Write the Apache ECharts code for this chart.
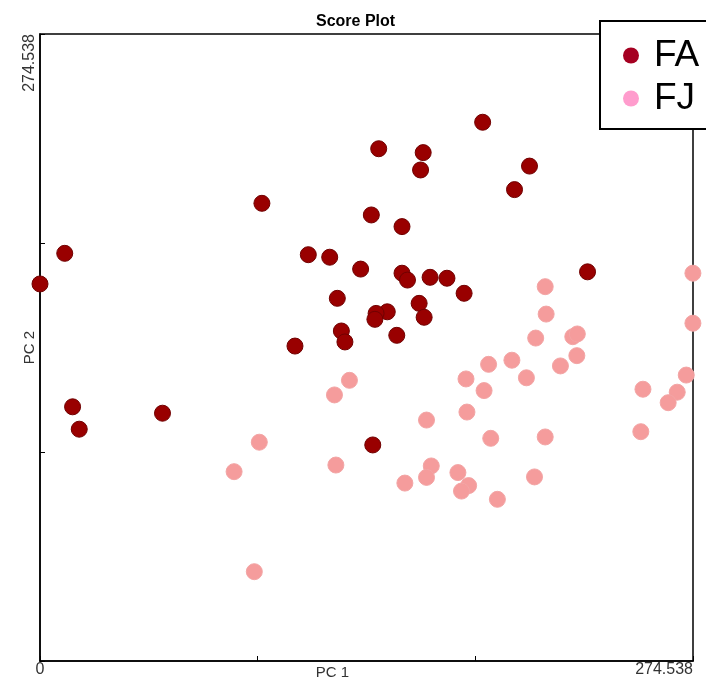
<!DOCTYPE html>
<html>
<head>
<meta charset="utf-8">
<title>Score Plot</title>
<script src="https://cdn.jsdelivr.net/npm/echarts@6/dist/echarts.min.js"></script>
<style>
  html, body { margin: 0; padding: 0; background: #fff; }
  #chart { width: 706px; height: 681px; }
</style>
</head>
<body>
<div id="chart"></div>
<script>
// axis range (both PCs share the same scale)
const axisMin = 0
const axisMax = 274.538

// FA group scores
const faPc1 = [186.1, 142.4, 161.1, 160.0, 205.8, 199.5, 93.3, 139.3, 152.2, 10.4,
  112.8, 121.8, 134.8, 230.2, 0, 152.2, 154.5, 164.0, 171.1, 178.3,
  125.0, 159.4, 146.0, 141.3, 140.8, 161.5, 126.7, 128.2, 150.0, 107.2,
  13.7, 16.5, 51.5, 139.9]
const faPc2 = [235.9, 224.3, 222.6, 215.0, 216.7, 206.4, 200.4, 195.3, 190.2, 178.5,
  177.9, 176.8, 171.6, 170.4, 165.1, 169.8, 166.8, 168.0, 167.6, 161.0,
  158.8, 156.6, 152.9, 152.2, 149.6, 150.5, 144.5, 139.7, 142.6, 137.9,
  111.3, 101.5, 108.5, 94.6]

// FJ group scores
const fjPc1 = [212.4, 274.5, 212.8, 274.5, 208.4, 224.0, 225.9, 225.7, 188.6, 198.4,
  218.8, 204.5, 179.1, 186.7, 271.7, 253.5, 267.9, 264.1, 130.1, 123.8,
  179.5, 162.5, 189.5, 212.4, 252.6, 92.2, 81.6, 124.4, 164.5, 162.5,
  153.4, 175.7, 180.2, 177.2, 207.9, 192.3, 90.1]
const fjPc2 = [163.9, 169.8, 151.9, 147.9, 141.4, 142.0, 143.2, 133.7, 129.9, 131.7,
  129.2, 124.0, 123.5, 118.4, 125.2, 119.0, 117.7, 113.1, 122.9, 116.5,
  109.0, 105.5, 97.5, 98.1, 100.4, 95.8, 82.9, 85.8, 85.4, 80.4,
  77.9, 82.5, 76.8, 74.4, 80.6, 70.8, 39.1]

const groups = ['FA', 'FJ']

const FONT = 'Liberation Sans, Arial, sans-serif'

function zip(xs, ys) {
  return xs.map((x, i) => [x, ys[i]])
}

// only show the end labels of each axis
function edgeLabel(showMin) {
  return value => {
    if (Math.abs(value - axisMax) < 1e-6) return String(axisMax)
    if (showMin && value === axisMin) return String(axisMin)
    return ''
  }
}

const chart = echarts.init(document.getElementById('chart'))

const option = {
  animation: false,
  backgroundColor: '#fff',
  title: {
    text: 'Score Plot',
    left: 311,
    top: 9,
    textStyle: { fontFamily: FONT, fontSize: 16, fontWeight: 'bold', color: '#000' }
  },
  legend: {
    left: 600,
    top: 21,
    orient: 'vertical',
    icon: 'circle',
    itemWidth: 16,
    itemHeight: 16,
    itemGap: 0,
    padding: [13, 20, 9, 23],
    backgroundColor: '#fff',
    borderColor: '#000',
    borderWidth: 2,
    borderRadius: 0,
    textStyle: { fontFamily: FONT, fontSize: 37, lineHeight: 43, color: '#000', padding: [0, 0, 0, 10] },
    data: [
      { name: groups[0], itemStyle: { color: '#a50021', borderWidth: 0 } },
      { name: groups[1], itemStyle: { color: '#ff9ccd', borderWidth: 0 } }
    ]
  },
  grid: {
    left: 40,
    right: 13,
    top: 34,
    bottom: 20,
    containLabel: false,
    outerBoundsMode: 'none',
    show: true,
    borderColor: '#000',
    borderWidth: 1.5,
    backgroundColor: '#fff'
  },
  xAxis: {
    type: 'value',
    min: axisMin,
    max: axisMax,
    interval: axisMax / 3,
    name: 'PC 1',
    nameLocation: 'middle',
    nameGap: 4,
    nameMoveOverlap: false,
    nameTextStyle: { fontFamily: FONT, fontSize: 15, color: '#333', padding: [0, 68, 0, 0] },
    axisLine: { show: true, lineStyle: { color: '#000', width: 1.5 } },
    axisTick: { show: true, inside: true, length: 5, lineStyle: { color: '#000' } },
    splitLine: { show: false },
    axisLabel: {
      margin: 1,
      fontFamily: FONT,
      fontSize: 16,
      lineHeight: 16,
      color: '#333',
      showMinLabel: true,
      showMaxLabel: true,
      alignMaxLabel: 'right',
      formatter: edgeLabel(true)
    }
  },
  yAxis: {
    type: 'value',
    min: axisMin,
    max: axisMax,
    interval: axisMax / 3,
    name: 'PC 2',
    nameLocation: 'middle',
    nameGap: 3,
    nameRotate: 90,
    nameMoveOverlap: false,
    nameTextStyle: { fontFamily: FONT, fontSize: 15, color: '#333' },
    axisLine: { show: true, lineStyle: { color: '#000', width: 1.5 } },
    axisTick: { show: true, inside: true, length: 5, lineStyle: { color: '#000' } },
    splitLine: { show: false },
    axisLabel: {
      margin: 2,
      rotate: 90,
      fontFamily: FONT,
      fontSize: 16,
      lineHeight: 16,
      color: '#333',
      showMaxLabel: true,
      alignMaxLabel: 'right',
      formatter: edgeLabel(false)
    }
  },
  series: [
    {
      name: groups[0],
      type: 'scatter',
      clip: false,
      symbolSize: 16,
      itemStyle: { color: '#990000', borderColor: '#700000', borderWidth: 1, opacity: 1 },
      data: zip(faPc1, faPc2)
    },
    {
      name: groups[1],
      type: 'scatter',
      clip: false,
      symbolSize: 16,
      itemStyle: { color: '#f59c9c', borderColor: '#f3a5a5', borderWidth: 1, opacity: 1 },
      data: zip(fjPc1, fjPc2)
    }
  ]
}

chart.setOption(option)
</script>
</body>
</html>
